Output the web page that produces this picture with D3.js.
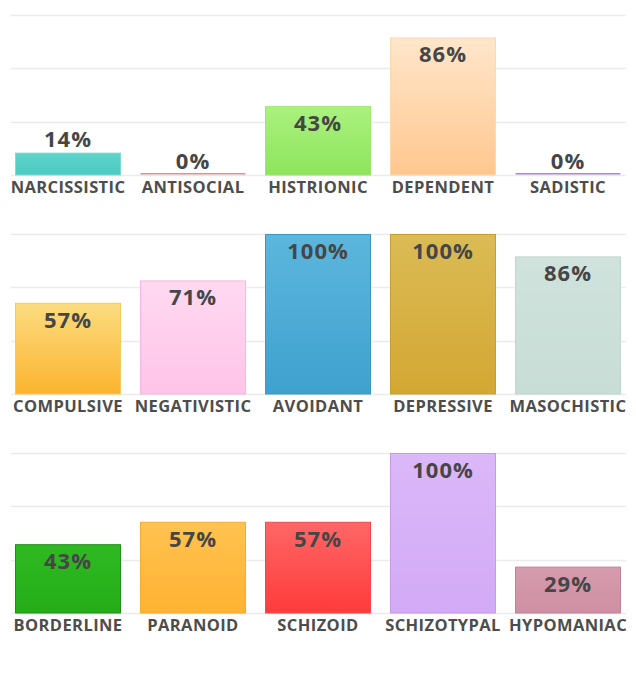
<!DOCTYPE html>
<html>
<head>
<meta charset="utf-8">
<script src="https://cdn.jsdelivr.net/npm/d3@7"></script>
<style>
  body { margin: 0; background: #fff; }
  text { font-family: "Open Sans", "Noto Sans", sans-serif; font-weight: 700; }
</style>
</head>
<body>
<div id="plot"></div>
<script>
// data, one row of five bars per panel
const categories = [
  "NARCISSISTIC", "ANTISOCIAL", "HISTRIONIC", "DEPENDENT", "SADISTIC",
  "COMPULSIVE", "NEGATIVISTIC", "AVOIDANT", "DEPRESSIVE", "MASOCHISTIC",
  "BORDERLINE", "PARANOID", "SCHIZOID", "SCHIZOTYPAL", "HYPOMANIAC"
];
const values = [14, 0, 43, 86, 0, 57, 71, 100, 100, 86, 43, 57, 57, 100, 29];
const yTicks = [0, 33.33, 66.67, 100];

// colours: [top, bottom, stroke]
const palette = [
  ["#5ed3cb", "#4ccac1", "#7fdcd5"],
  ["#f08a8a", "#f08a8a", "#ee7b7b"],
  ["#aaf27e", "#8ee45c", "#9ae86c"],
  ["#ffe6cb", "#ffc78f", "#ffd9ae"],
  ["#b57be6", "#b57be6", "#a96ae0"],
  ["#fbdc80", "#fbb42e", "#f6c860"],
  ["#ffd9f1", "#ffc4e9", "#f7b6df"],
  ["#5cb6dd", "#3fa1cf", "#3a98c4"],
  ["#dbbb55", "#d3a733", "#c89e2e"],
  ["#cfe2dc", "#c9ddd7", "#c1d6d0"],
  ["#2fba22", "#24ad16", "#1e8f18"],
  ["#ffc350", "#ffb233", "#f2aa38"],
  ["#ff6666", "#ff3b3b", "#f04848"],
  ["#dbb8f9", "#d2aaf6", "#c39be9"],
  ["#d59cad", "#cf8fa2", "#bf8597"]
];

const width = 636, height = 680;
const panelTop = [15, 234, 453], panelH = 160;

const svg = d3.select("#plot").append("svg")
  .attr("width", width).attr("height", height);

const defs = svg.append("defs");
palette.forEach((c, i) => {
  const g = defs.append("linearGradient")
    .attr("id", "grad" + i).attr("x1", 0).attr("x2", 0).attr("y1", 0).attr("y2", 1);
  g.append("stop").attr("offset", "0%").attr("stop-color", c[0]);
  g.append("stop").attr("offset", "100%").attr("stop-color", c[1]);
});

const x = d3.scaleBand()
  .domain(d3.range(5))
  .range([5.5, 630.5])
  .paddingInner(0.152)
  .paddingOuter(0.076);

panelTop.forEach((top, r) => {
  const rowData = d3.range(5).map(j => {
    const i = r * 5 + j;
    return {i: i, j: j, cat: categories[i], v: values[i]};
  });

  const y = d3.scaleLinear().domain([0, 100]).range([top + panelH, top]);

  const g = svg.append("g");

  // grid lines
  g.selectAll(".grid")
    .data(yTicks)
    .join("line")
      .attr("x1", 11).attr("x2", 626)
      .attr("y1", d => Math.round(y(d)) + 0.5)
      .attr("y2", d => Math.round(y(d)) + 0.5)
      .style("stroke", "#ebebeb")
      .style("stroke-width", 1.5);

  // bars
  g.selectAll(".bar")
    .data(rowData)
    .join("rect")
      .attr("x", d => x(d.j) + 0.5)
      .attr("width", x.bandwidth() - 1)
      .attr("y", d => d.v === 0 ? y(0) - 2 : y(d.v) + 0.5)
      .attr("height", d => d.v === 0 ? 1.5 : y(0) - y(d.v) - 0.5)
      .style("fill", d => "url(#grad" + d.i + ")")
      .style("stroke", d => d.v === 0 ? "none" : palette[d.i][2])
      .style("stroke-width", 1);

  // value labels, inside when there is room
  g.selectAll(".val")
    .data(rowData)
    .join("text")
      .attr("x", d => x(d.j) + x.bandwidth() / 2)
      .attr("y", d => (y(0) - y(d.v)) > 35 ? y(d.v) + 25 : y(d.v) - 6)
      .attr("text-anchor", "middle")
      .style("font-size", "22px")
      .style("letter-spacing", "1px")
      .style("fill", "#464646")
      .text(d => d.v + "%");

  // category labels
  g.selectAll(".cat")
    .data(rowData)
    .join("text")
      .attr("x", d => x(d.j) + x.bandwidth() / 2)
      .attr("y", y(0) + 18)
      .attr("text-anchor", "middle")
      .style("font-size", "16.5px")
      .style("letter-spacing", "0.4px")
      .style("fill", "#4d4d4d")
      .text(d => d.cat);
});
</script>
</body>
</html>
